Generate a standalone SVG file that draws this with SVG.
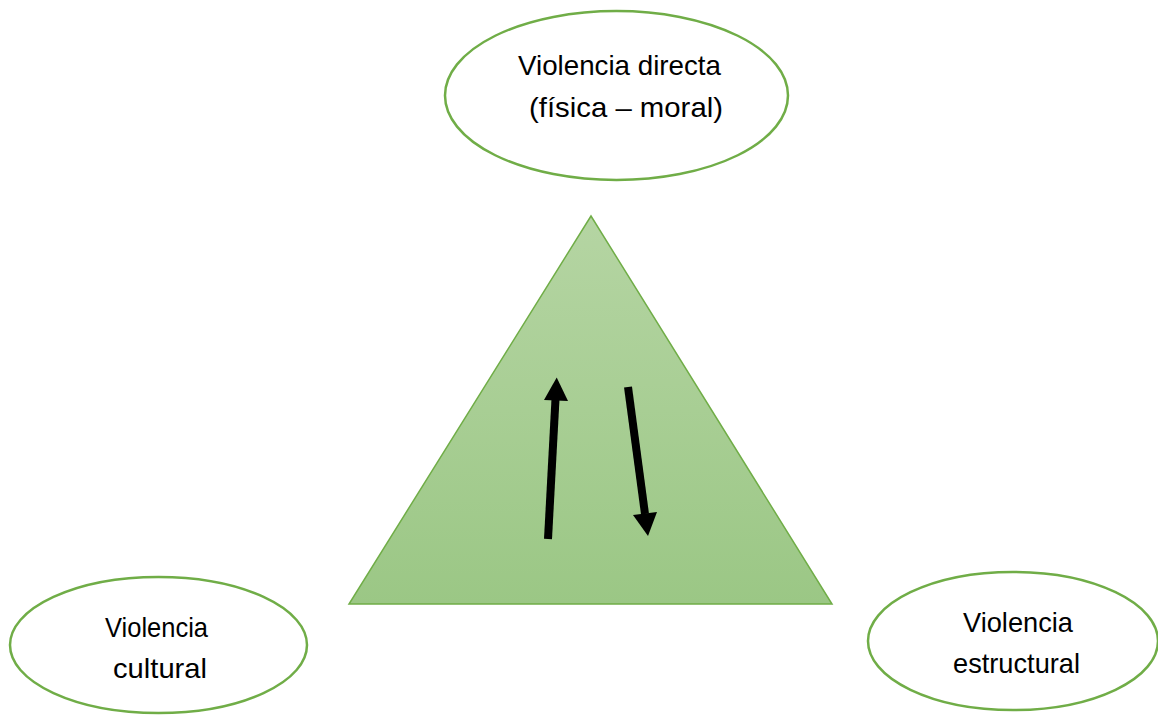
<svg xmlns="http://www.w3.org/2000/svg" width="1158" height="715" viewBox="0 0 1158 715">
  <style>
    .node ellipse { fill: #ffffff; stroke: #70AD47; stroke-width: 2.5; }
    .label { font-family: "Liberation Sans", Arial, sans-serif; font-size: 28.5px; fill: #000000; }
    .arrow { stroke: #000000; stroke-width: 8; fill: none; }
    .head { fill: #000000; }
  </style>
  <defs>
    <linearGradient id="triFill" x1="0" y1="0" x2="0" y2="1">
      <stop offset="0" stop-color="#B5D5A3"/>
      <stop offset="1" stop-color="#9BC785"/>
    </linearGradient>
  </defs>

  <rect width="1158" height="715" fill="#ffffff"/>

  <g id="triangle">
    <polygon points="591,216 349,604 832,604" fill="url(#triFill)" stroke="#70AD47" stroke-width="1.5"/>
  </g>

  <g id="directa" class="node">
    <ellipse cx="616.5" cy="95.5" rx="171.5" ry="84.5"/>
    <text class="label" x="518" y="75" textLength="203" lengthAdjust="spacingAndGlyphs">Violencia directa</text>
    <text class="label" x="529" y="117" textLength="194" lengthAdjust="spacingAndGlyphs">(física – moral)</text>
  </g>

  <g id="cultural" class="node">
    <ellipse cx="158.5" cy="645" rx="148.5" ry="68"/>
    <text class="label" x="105" y="637" textLength="103" lengthAdjust="spacingAndGlyphs">Violencia</text>
    <text class="label" x="113" y="678" textLength="94" lengthAdjust="spacingAndGlyphs">cultural</text>
  </g>

  <g id="estructural" class="node">
    <ellipse cx="1013" cy="641" rx="145" ry="69"/>
    <text class="label" x="963" y="632" textLength="110" lengthAdjust="spacingAndGlyphs">Violencia</text>
    <text class="label" x="953" y="673" textLength="127" lengthAdjust="spacingAndGlyphs">estructural</text>
  </g>

  <g id="connectors">
    <!-- upward arrow -->
    <line class="arrow" x1="548" y1="539" x2="555.5" y2="399"/>
    <polygon class="head" points="556.7,377.5 568,401 544,400"/>
    <!-- downward arrow -->
    <line class="arrow" x1="628" y1="387" x2="645" y2="514"/>
    <polygon class="head" points="648,536 657,512 633,515"/>
  </g>
</svg>
